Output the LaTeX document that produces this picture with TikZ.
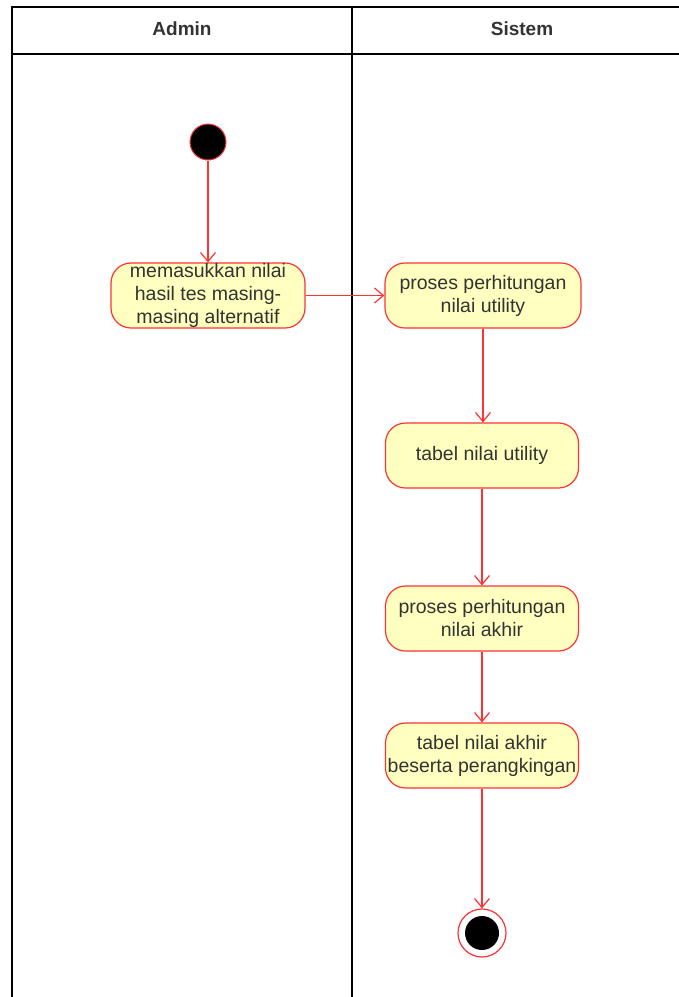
\documentclass[tikz,border=0pt]{standalone}
\usepackage{fontspec}
\setmainfont{Liberation Sans}
\usetikzlibrary{arrows.meta}
\definecolor{actfill}{HTML}{FFFFC0}
\definecolor{actline}{HTML}{FF3333}
\definecolor{txt}{HTML}{333333}
\begin{document}
\begin{tikzpicture}[x=1pt,y=-1pt,
  action/.style={draw=actline,fill=actfill,line width=1.2pt,rounded corners=20pt,
    minimum height=65pt,align=center,inner sep=0pt,font=\fontsize{19.5}{23}\selectfont,text=txt},
  flow/.style={draw=actline,line width=1.2pt,-{Straight Barb[length=9pt,width=15pt,line width=1.2pt]}},
  lane/.style={draw=black,line width=1.4pt},
  head/.style={font=\bfseries\fontsize{19}{22}\selectfont,text=txt}]
\useasboundingbox (0,0) rectangle (679,997);
% swimlanes
\draw[lane] (679,7) -- (12,7) -- (12,997);
\draw[lane] (352,7) -- (352,997);
\draw[lane] (12,54) -- (679,54);
\node[head] (hadmin) at (182,29) {Admin};
\node[head] (hsistem) at (522,29) {Sistem};
% nodes
\node[circle,fill=black,draw=actline,line width=1pt,minimum size=36pt,inner sep=0pt] (start) at (208,142) {};
\node[action,minimum width=194pt] (a1) at (208,295.5) {memasukkan nilai\\hasil tes masing-\\masing alternatif};
\node[action,minimum width=196pt] (a2) at (483,295.5) {proses perhitungan\\nilai utility};
\node[action,minimum width=193pt] (a3) at (482,455.5) {tabel nilai utility};
\node[action,minimum width=193pt] (a4) at (482,618.5) {proses perhitungan\\nilai akhir};
\node[action,minimum width=193pt] (a5) at (482,755.5) {tabel nilai akhir\\beserta perangkingan};
\node[circle,draw=actline,fill=white,line width=1.2pt,minimum size=48pt,inner sep=0pt] (end) at (482,933) {};
\node[circle,fill=black,minimum size=34pt,inner sep=0pt] (endin) at (end.center) {};
% flows
\draw[flow] (start) -- (a1);
\draw[flow] (a1) -- (a2);
\draw[flow] (a2.south -| 483,0) -- (a3.north -| 483,0);
\draw[flow] (a3) -- (a4);
\draw[flow] (a4) -- (a5);
\draw[flow] (a5) -- (end);
\end{tikzpicture}
\end{document}
